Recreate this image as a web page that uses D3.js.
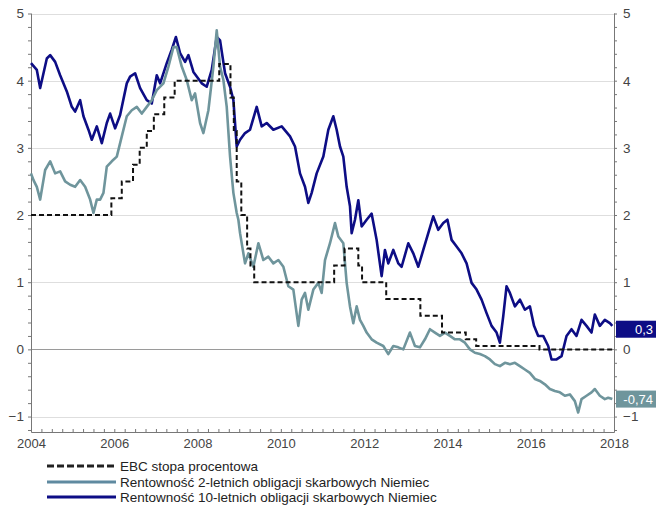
<!DOCTYPE html>
<html><head><meta charset="utf-8">
<script src="https://cdn.jsdelivr.net/npm/d3@7"></script>
<style>body{margin:0;background:#fff}svg{display:block;font-family:"Liberation Sans",Arial,sans-serif}</style>
</head><body><svg id="c" width="662" height="509"></svg>
<script>
// ---- data ----
const yTicks = [-1, 0, 1, 2, 3, 4, 5];
const xTickYears = [2004, 2006, 2008, 2010, 2012, 2014, 2016, 2018];
const legendLabels = ["EBC stopa procentowa", "Rentowność 2-letnich obligacji skarbowych Niemiec", "Rentowność 10-letnich obligacji skarbowych Niemiec"];

const ecbDates = [2004.0, 2005.93, 2006.18, 2006.45, 2006.61, 2006.78, 2006.95, 2007.20, 2007.45, 2008.52, 2008.79, 2008.87, 2008.94, 2009.05, 2009.19, 2009.27, 2009.36, 2011.28, 2011.53, 2011.86, 2011.95, 2012.53, 2013.35, 2013.87, 2014.44, 2014.69, 2016.21, 2017.97];
const ecbValues = [2.00, 2.25, 2.50, 2.75, 3.00, 3.25, 3.50, 3.75, 4.00, 4.25, 3.75, 3.25, 2.50, 2.00, 1.50, 1.25, 1.00, 1.25, 1.50, 1.25, 1.00, 0.75, 0.50, 0.25, 0.15, 0.05, 0.00, 0.00];

const y2Dates = [2004.0, 2004.06, 2004.14, 2004.22, 2004.34, 2004.46, 2004.58, 2004.70, 2004.82, 2004.94, 2005.06, 2005.18, 2005.30, 2005.42, 2005.50, 2005.58, 2005.66, 2005.74, 2005.82, 2005.94, 2006.06, 2006.18, 2006.30, 2006.42, 2006.54, 2006.66, 2006.78, 2006.90, 2007.02, 2007.18, 2007.30, 2007.42, 2007.50, 2007.62, 2007.74, 2007.86, 2007.94, 2008.06, 2008.14, 2008.26, 2008.38, 2008.46, 2008.54, 2008.62, 2008.70, 2008.78, 2008.86, 2008.94, 2008.98, 2009.02, 2009.14, 2009.22, 2009.34, 2009.46, 2009.58, 2009.70, 2009.82, 2009.94, 2010.06, 2010.18, 2010.30, 2010.42, 2010.50, 2010.58, 2010.66, 2010.78, 2010.90, 2010.98, 2011.06, 2011.18, 2011.30, 2011.38, 2011.50, 2011.58, 2011.66, 2011.74, 2011.82, 2011.90, 2011.98, 2012.06, 2012.18, 2012.30, 2012.46, 2012.58, 2012.70, 2012.82, 2012.94, 2013.10, 2013.22, 2013.34, 2013.46, 2013.58, 2013.70, 2013.82, 2013.94, 2014.06, 2014.18, 2014.30, 2014.42, 2014.54, 2014.66, 2014.78, 2014.90, 2015.02, 2015.14, 2015.26, 2015.38, 2015.50, 2015.62, 2015.74, 2015.86, 2015.98, 2016.10, 2016.22, 2016.34, 2016.46, 2016.58, 2016.70, 2016.82, 2016.94, 2017.06, 2017.14, 2017.22, 2017.34, 2017.46, 2017.54, 2017.66, 2017.78, 2017.86, 2017.96];
const y2Values = [2.62, 2.52, 2.42, 2.23, 2.67, 2.80, 2.62, 2.65, 2.50, 2.45, 2.42, 2.52, 2.42, 2.23, 2.03, 2.23, 2.23, 2.33, 2.72, 2.80, 2.87, 3.17, 3.47, 3.56, 3.61, 3.51, 3.61, 3.71, 3.86, 3.96, 4.21, 4.50, 4.50, 4.21, 4.01, 3.71, 3.81, 3.37, 3.22, 3.56, 4.21, 4.75, 4.21, 4.01, 3.61, 2.87, 2.33, 2.03, 1.93, 1.73, 1.28, 1.43, 1.23, 1.58, 1.33, 1.38, 1.28, 1.33, 1.23, 0.94, 0.89, 0.35, 0.74, 0.84, 0.59, 0.89, 0.99, 0.84, 1.33, 1.58, 1.88, 1.68, 1.58, 0.99, 0.64, 0.39, 0.64, 0.44, 0.35, 0.25, 0.15, 0.10, 0.05, -0.07, 0.05, 0.03, 0.00, 0.25, 0.05, 0.03, 0.15, 0.30, 0.25, 0.20, 0.25, 0.20, 0.15, 0.15, 0.10, 0.00, -0.05, -0.07, -0.10, -0.15, -0.22, -0.25, -0.20, -0.22, -0.20, -0.25, -0.30, -0.35, -0.44, -0.47, -0.52, -0.59, -0.62, -0.64, -0.69, -0.67, -0.77, -0.94, -0.74, -0.69, -0.64, -0.59, -0.69, -0.74, -0.72, -0.74];

const y10Dates = [2004.0, 2004.14, 2004.22, 2004.38, 2004.46, 2004.58, 2004.70, 2004.86, 2004.98, 2005.06, 2005.18, 2005.26, 2005.38, 2005.46, 2005.58, 2005.70, 2005.82, 2005.90, 2006.02, 2006.14, 2006.30, 2006.38, 2006.50, 2006.62, 2006.78, 2006.90, 2007.02, 2007.10, 2007.26, 2007.38, 2007.48, 2007.58, 2007.70, 2007.78, 2007.90, 2008.02, 2008.10, 2008.22, 2008.34, 2008.46, 2008.54, 2008.66, 2008.78, 2008.86, 2008.94, 2009.02, 2009.14, 2009.26, 2009.42, 2009.54, 2009.66, 2009.82, 2010.02, 2010.22, 2010.34, 2010.46, 2010.58, 2010.66, 2010.74, 2010.86, 2011.02, 2011.14, 2011.26, 2011.34, 2011.42, 2011.50, 2011.58, 2011.66, 2011.70, 2011.78, 2011.86, 2011.94, 2012.06, 2012.18, 2012.30, 2012.42, 2012.50, 2012.58, 2012.70, 2012.82, 2012.90, 2013.06, 2013.18, 2013.30, 2013.42, 2013.54, 2013.66, 2013.78, 2013.90, 2014.00, 2014.10, 2014.22, 2014.34, 2014.46, 2014.58, 2014.70, 2014.82, 2014.94, 2015.06, 2015.18, 2015.26, 2015.34, 2015.42, 2015.50, 2015.62, 2015.74, 2015.86, 2015.98, 2016.08, 2016.18, 2016.30, 2016.42, 2016.50, 2016.62, 2016.74, 2016.86, 2016.98, 2017.10, 2017.22, 2017.34, 2017.46, 2017.54, 2017.66, 2017.78, 2017.90, 2017.96];
const y10Values = [4.26, 4.16, 3.89, 4.33, 4.38, 4.28, 4.08, 3.84, 3.61, 3.54, 3.71, 3.47, 3.27, 3.12, 3.32, 3.07, 3.37, 3.51, 3.29, 3.49, 3.96, 4.06, 4.11, 3.89, 3.71, 3.66, 4.08, 3.96, 4.26, 4.46, 4.65, 4.41, 4.28, 4.38, 4.13, 4.03, 3.96, 3.91, 4.16, 4.65, 4.60, 4.11, 3.91, 3.71, 3.02, 3.12, 3.22, 3.27, 3.61, 3.32, 3.37, 3.27, 3.32, 3.17, 3.02, 2.62, 2.42, 2.18, 2.33, 2.62, 2.87, 3.27, 3.47, 3.27, 3.02, 2.87, 2.42, 2.13, 1.73, 1.93, 2.22, 1.83, 1.93, 2.02, 1.63, 1.09, 1.48, 1.28, 1.48, 1.28, 1.23, 1.58, 1.43, 1.23, 1.48, 1.73, 1.98, 1.78, 1.88, 1.93, 1.63, 1.53, 1.43, 1.28, 0.99, 0.89, 0.74, 0.54, 0.35, 0.25, 0.10, 0.49, 0.94, 0.84, 0.64, 0.74, 0.59, 0.64, 0.35, 0.20, 0.20, 0.05, -0.15, -0.15, -0.10, 0.20, 0.30, 0.20, 0.44, 0.35, 0.25, 0.52, 0.35, 0.44, 0.39, 0.35];

const lastLabels = ["0,3", "-0,74"];
const lastLabelValues = [0.3, -0.74];

// ---- chart ----
const svg = d3.select("#c");
const x = d3.scaleLinear().domain([2004, 2018]).range([31, 614]);
const y = d3.scaleLinear().domain([-1.23, 5]).range([432, 13.5]);
const navy = "#0d0d85", teal = "#6f959c";
const fmt = d3.format("d");
const labelFont = "Liberation Sans, Arial, sans-serif";

// grid
svg.append("g").selectAll("line").data(yTicks).join("line")
  .attr("x1", x(2004)).attr("x2", x(2018))
  .attr("y1", d => Math.round(y(d)) + 0.5).attr("y2", d => Math.round(y(d)) + 0.5)
  .attr("stroke", d => d === 0 ? "#9a9a9a" : "#dedede").attr("stroke-width", 1);

// axes
const minor = d3.range(-1.2, 5.0001, 0.2).map(v => Math.round(v * 10) / 10);
const leftAx = svg.append("g").attr("transform", `translate(${x(2004)},0)`)
  .call(d3.axisLeft(y).tickValues(minor).tickSize(3).tickFormat(""));
leftAx.call(g => g.select(".domain").remove());
leftAx.selectAll("line").attr("stroke", "#777");
svg.append("g").attr("transform", `translate(${x(2004)},0)`)
  .call(d3.axisLeft(y).tickValues(yTicks).tickSize(0).tickPadding(7).tickFormat(fmt))
  .call(g => g.select(".domain").remove())
  .call(g => g.selectAll("text").attr("font-size", 13.5).attr("fill", "#444").attr("font-family", labelFont));
svg.append("line").attr("x1", x(2004) + 0.5).attr("x2", x(2004) + 0.5).attr("y1", y(5)).attr("y2", y(-1.23)).attr("stroke", "#777");

const rightAx = svg.append("g").attr("transform", `translate(${x(2018)},0)`)
  .call(d3.axisRight(y).tickValues(minor).tickSize(3).tickFormat(""));
rightAx.call(g => g.select(".domain").remove());
rightAx.selectAll("line").attr("stroke", "#777");
svg.append("g").attr("transform", `translate(${x(2018)},0)`)
  .call(d3.axisRight(y).tickValues(yTicks).tickSize(0).tickPadding(9).tickFormat(fmt))
  .call(g => g.select(".domain").remove())
  .call(g => g.selectAll("text").attr("font-size", 13.5).attr("fill", "#444").attr("font-family", labelFont));
svg.append("line").attr("x1", x(2018) + 0.5).attr("x2", x(2018) + 0.5).attr("y1", y(5)).attr("y2", y(-1.23)).attr("stroke", "#777");

// bottom axis
const quarters = d3.range(2004, 2018.001, 0.25);
svg.append("g").attr("transform", `translate(0,${y(-1.23)})`)
  .call(d3.axisBottom(x).tickValues(quarters).tickSize(-3).tickFormat(""))
  .call(g => g.select(".domain").attr("stroke", "#777"))
  .call(g => g.selectAll("line").attr("stroke", "#777"));
svg.append("g").attr("transform", `translate(0,${y(-1.23)})`)
  .call(d3.axisBottom(x).tickValues(xTickYears).tickSize(0).tickPadding(7).tickFormat(fmt))
  .call(g => g.select(".domain").remove())
  .call(g => g.selectAll("text").attr("font-size", 13).attr("fill", "#444").attr("font-family", labelFont));

// lines
const line = d3.line().x(d => x(d[0])).y(d => y(d[1]));
const stepLine = d3.line().x(d => x(d[0])).y(d => y(d[1])).curve(d3.curveStepAfter);
svg.append("path").datum(d3.zip(y10Dates, y10Values)).attr("d", line)
  .attr("fill", "none").attr("stroke", navy).attr("stroke-width", 2.6).attr("stroke-linejoin", "round");
svg.append("path").datum(d3.zip(y2Dates, y2Values)).attr("d", line)
  .attr("fill", "none").attr("stroke", teal).attr("stroke-width", 2.6).attr("stroke-linejoin", "round");
svg.append("path").datum(d3.zip(ecbDates, ecbValues)).attr("d", stepLine)
  .attr("fill", "none").attr("stroke", "#111").attr("stroke-width", 2).attr("stroke-dasharray", "5,3");

// end labels
const labelColors = [navy, teal];
lastLabelValues.forEach((v, i) => {
  const cy = y(v);
  svg.append("rect").attr("x", 616).attr("y", cy - 8.5).attr("width", 40).attr("height", 17).attr("fill", labelColors[i]);
  svg.append("text").attr("x", 653).attr("y", cy + 4.5).attr("text-anchor", "end")
    .attr("font-size", 13).attr("fill", "#fff").text(lastLabels[i]);
});

// legend
const legY = [466, 482, 497];
const legStyles = [{c: "#222", dash: "7,3", w: 3.2}, {c: "#5f8aa0", dash: null, w: 3.2}, {c: "#0d0d85", dash: null, w: 3.2}];
legendLabels.forEach((t, i) => {
  svg.append("line").attr("x1", 47).attr("x2", 116).attr("y1", legY[i]).attr("y2", legY[i])
    .attr("stroke", legStyles[i].c).attr("stroke-width", legStyles[i].w)
    .attr("stroke-dasharray", legStyles[i].dash);
  svg.append("text").attr("x", 120).attr("y", legY[i] + 5).attr("font-size", 13.5).attr("fill", "#222").text(t);
});
</script></body></html>
